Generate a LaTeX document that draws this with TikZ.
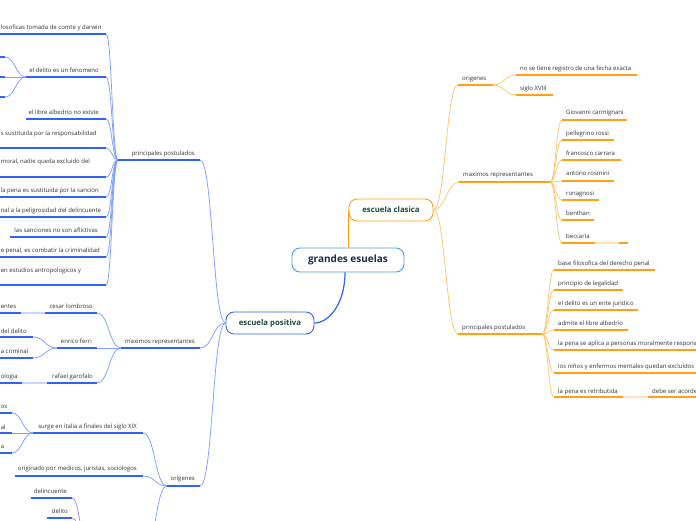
\documentclass[tikz,border=0pt]{standalone}
\usepackage{fontspec}
\setmainfont{Open Sans}
\definecolor{bl}{HTML}{2F64F5}
\definecolor{blc}{HTML}{7E9FFF}
\definecolor{blf}{HTML}{C9D7FF}
\definecolor{orn}{HTML}{FFA114}
\definecolor{orc}{HTML}{FFC670}
\definecolor{orf}{HTML}{FDE3C2}
\definecolor{txt}{HTML}{333333}
\definecolor{cbord}{HTML}{4A9EDC}
\definecolor{cnavy}{HTML}{1B2A48}
\definecolor{cgreen}{HTML}{1E4A3C}
\tikzset{
  lbl/.style={inner sep=0pt, font=\fontsize{6}{7.2}\selectfont, text=txt},
  bul/.style={draw=bl, line width=1.6pt},
  bcn/.style={draw=blc, line width=0.75pt},
  bfd/.style={draw=blf, line width=1.6pt},
  oul/.style={draw=orn, line width=1.6pt},
  ocn/.style={draw=orc, line width=0.75pt},
  ofd/.style={draw=orf, line width=1.6pt},
  mainbox/.style={rounded corners=8pt, line width=0.9pt, inner sep=0pt, fill=white},
}
% right-side topic: name, x1, x2, underline y, text centre y, text
\newcommand\RT[6]{%
  \coordinate (#1-l) at (#2,#4);
  \coordinate (#1-r) at (#3,#4);
  \node[lbl,anchor=base west] (#1) at ({#2+4},{#5+2.5}) {#6};}
% left-side topic: name, x1, x2, underline y, text centre y, text end x, text
\newcommand\LT[7]{%
  \coordinate (#1-l) at (#2,#4);
  \coordinate (#1-r) at (#3,#4);
  \node[lbl,anchor=base east] (#1) at (#6,{#5+2.5}) {#7};}
% left-side topic whose text meets the left edge: name, x1, x2, underline y, text centre y, text
\newcommand\LE[6]{%
  \coordinate (#1-l) at (#2,#4);
  \coordinate (#1-r) at (#3,#4);
  \node[lbl,anchor=base west] (#1) at (0.6,{#5+2.5}) {#6};}
\begin{document}
\begin{tikzpicture}[x=1pt,y=-1pt]
\useasboundingbox (0,0) rectangle (696,520);
\clip (0,0) rectangle (696,520);
\fill[white] (0,0) rectangle (696,520);

% ---------------- main nodes
\node[mainbox, draw=cbord, minimum width=112pt, minimum height=24pt,
      font=\bfseries\fontsize{10}{12}\selectfont, text=cnavy] (root) at (348,260) {grandes esuelas};
\node[mainbox, draw=orn, minimum width=84pt, minimum height=22pt,
      font=\bfseries\fontsize{7.8}{9}\selectfont, text=cgreen] (clasica) at (391,210) {escuela clasica};
\node[mainbox, draw=bl, minimum width=88pt, minimum height=22pt,
      font=\bfseries\fontsize{7.8}{9}\selectfont, text=cgreen] (positiva) at (270,323) {escuela positiva};

% ---------------- escuela clasica topics
\RT{corig}{458}{493}{85}{78}{origenes}
\RT{co1}{516}{637}{75}{68}{no se tiene registro de una fecha exacta}
\RT{co2}{516}{553}{95}{88}{siglo XVIII}
\RT{cmax}{459}{550}{182}{174}{maximos representantes}
\RT{cm1}{562}{627}{120}{112}{Giovanni carmignani}
\RT{cm2}{562}{614}{140}{133}{pellegrino rossi}
\RT{cm3}{562}{621}{160}{153}{francosco carrara}
\RT{cm4}{562}{614}{181}{173}{antorio rosmini}
\RT{cm5}{562}{599}{200}{193}{ronagnosi}
\RT{cm6}{562}{594}{220}{213}{benthan}
\RT{cm7}{562}{595}{243}{236}{beccarla}
\coordinate (cm7a-l) at (619,243);
\coordinate (cm7a-r) at (628,243);
\RT{cpp}{458}{542}{334}{327}{principales postulados}
\RT{cp1}{554}{655}{270}{263}{base filosofica del derecho penal}
\RT{cp2}{554}{623}{290}{283}{principio de legalidad}
\RT{cp3}{554}{638}{310}{303}{el delito es un ente juridico}
\RT{cp4}{554}{628}{330}{323}{admite el libre albedrio}
\RT{cp5}{554}{720}{350}{343}{la pena se aplica a personas moralmente respons}
\RT{cp6}{554}{720}{373}{366}{los niños y enfermos mentales quedan excluidos}
\RT{cp7}{554}{623}{397}{391}{la pena es retributida}
\RT{cp7a}{648}{720}{397}{391}{debe ser acorde}

% ---------------- escuela positiva topics
\LT{bpp}{118}{200}{160}{153}{195}{principales postulados}
\LE{bp1}{-30}{106}{34}{27}{losoficas tomada de comte y darwin}
\LT{bp2}{26}{106}{77}{70}{99}{el delito es un fenomeno}
\LT{bp3}{26}{106}{119}{112}{99}{el libre albedrio no existe}
\LE{bp4}{-30}{106}{148}{133}{s sustituida por la responsabilidad}
\LE{bp5}{-30}{106}{177}{161}{moral, nadie queda excluido del}
\LT{bp6}{-30}{106}{197}{190}{99}{la pena es sustituida por la sanción}
\LE{bp7}{-30}{106}{217}{210}{nal a la peligrosidad del delincuente}
\LT{bp8}{10}{106}{237}{230}{98}{las sanciones no son aflictivas}
\LE{bp9}{-30}{106}{257}{250}{e penal, es combatir la criminalidad}
\LE{bp10}{-30}{106}{285}{270}{en estudios antropologicos y}
\coordinate (gc1-l) at (-30,57); \coordinate (gc1-r) at (5,57);
\coordinate (gc2-l) at (-30,77); \coordinate (gc2-r) at (5,77);
\coordinate (gc3-l) at (-30,97); \coordinate (gc3-r) at (5,97);

\LT{bmax}{121}{200}{348}{341}{195}{maximos representantes}
\LT{bm1}{45}{97}{313}{306}{93}{cesar lombroso}
\LE{bm1a}{-30}{21}{313}{306}{entes}
\LT{bm2}{57}{97}{348}{341}{92}{enrico ferri}
\LE{bm2a}{-30}{33}{337}{331}{del delito}
\LE{bm2b}{-30}{33}{358}{351}{a criminal}
\LT{bm3}{47}{97}{383}{376}{93}{rafael garofalo}
\LE{bm3a}{-30}{22}{383}{376}{ologia}

\LT{borig}{167}{200}{486}{478}{195}{origenes}
\LT{bo1}{33}{143}{433}{426}{137}{surge en italia a finales del siglo XIX}
\LE{bo1a}{-30}{12}{413}{406}{os}
\LE{bo1b}{-30}{12}{433}{427}{al}
\LE{bo1c}{-30}{12}{453}{446}{a}
\LT{bo2}{15}{143}{476}{468}{137}{originado por medicos, juristas, sociologos}
\coordinate (bo3-l) at (90,560); \coordinate (bo3-r) at (143,560);
\LT{bo3a}{31}{72}{498}{491}{67}{delincuente}
\LT{bo3b}{47}{72}{518}{511}{68}{delito}

% ---------------- connectors, escuela clasica
\draw[draw=orn, line width=1.4pt] (clasica.west) -- (clasica.west |- root.north);
\foreach \c in {corig,cmax,cpp}
  \draw[ocn] (clasica.east) .. controls +(12,0) and +(-12,0) .. (\c-l);
\foreach \c in {co1,co2}
  \draw[ocn] (corig-r) .. controls +(11,0) and +(-11,0) .. (\c-l);
\foreach \c in {cm1,cm2,cm3,cm4,cm5,cm6,cm7}
  \draw[ocn] (cmax-r) .. controls +(6,0) and +(-6,0) .. (\c-l);
\foreach \c in {cp1,cp2,cp3,cp4,cp5,cp6,cp7}
  \draw[ocn] (cpp-r) .. controls +(6,0) and +(-6,0) .. (\c-l);
\draw[ofd] (cm7-r) -- (cm7a-l);
\draw[ofd] (cp7-r) -- (cp7a-l);
\foreach \c in {corig,co1,co2,cmax,cm1,cm2,cm3,cm4,cm5,cm6,cm7,cm7a,cpp,cp1,cp2,cp3,cp4,cp5,cp6,cp7,cp7a}
  \draw[oul] (\c-l) -- (\c-r);

% ---------------- connectors, escuela positiva
\draw[draw=bl, line width=1.2pt] ([xshift=-3pt]root.south) .. controls +(0,32) and +(14,0) .. (positiva.east);
\foreach \c in {bpp,bmax,borig}
  \draw[bcn] (positiva.west) .. controls +(-13,0) and +(13,0) .. (\c-r);
\foreach \c in {bp1,bp2,bp3,bp4,bp5,bp6,bp7,bp8,bp9,bp10}
  \draw[bcn] (bpp-l) .. controls +(-6,0) and +(6,0) .. (\c-r);
\foreach \c in {gc1,gc2,gc3}
  \draw[bcn] (bp2-l) .. controls +(-10,0) and +(10,0) .. (\c-r);
\foreach \c in {bm1,bm2,bm3}
  \draw[bcn] (bmax-l) .. controls +(-12,0) and +(12,0) .. (\c-r);
\draw[bfd] (bm1-l) -- (bm1a-r);
\foreach \c in {bm2a,bm2b}
  \draw[bcn] (bm2-l) .. controls +(-12,0) and +(12,0) .. (\c-r);
\draw[bfd] (bm3-l) -- (bm3a-r);
\foreach \c in {bo1,bo2,bo3}
  \draw[bcn] (borig-l) .. controls +(-12,0) and +(12,0) .. (\c-r);
\foreach \c in {bo1a,bo1b,bo1c}
  \draw[bcn] (bo1-l) .. controls +(-10,0) and +(10,0) .. (\c-r);
\foreach \c in {bo3a,bo3b}
  \draw[bcn] (bo3-l) .. controls +(-9,0) and +(9,0) .. (\c-r);
\foreach \c in {bpp,bp1,bp2,bp3,bp4,bp5,bp6,bp7,bp8,bp9,bp10,gc1,gc2,gc3,bmax,bm1,bm1a,bm2,bm2a,bm2b,bm3,bm3a,borig,bo1,bo1a,bo1b,bo1c,bo2,bo3,bo3a,bo3b}
  \draw[bul] (\c-l) -- (\c-r);
\end{tikzpicture}
\end{document}
